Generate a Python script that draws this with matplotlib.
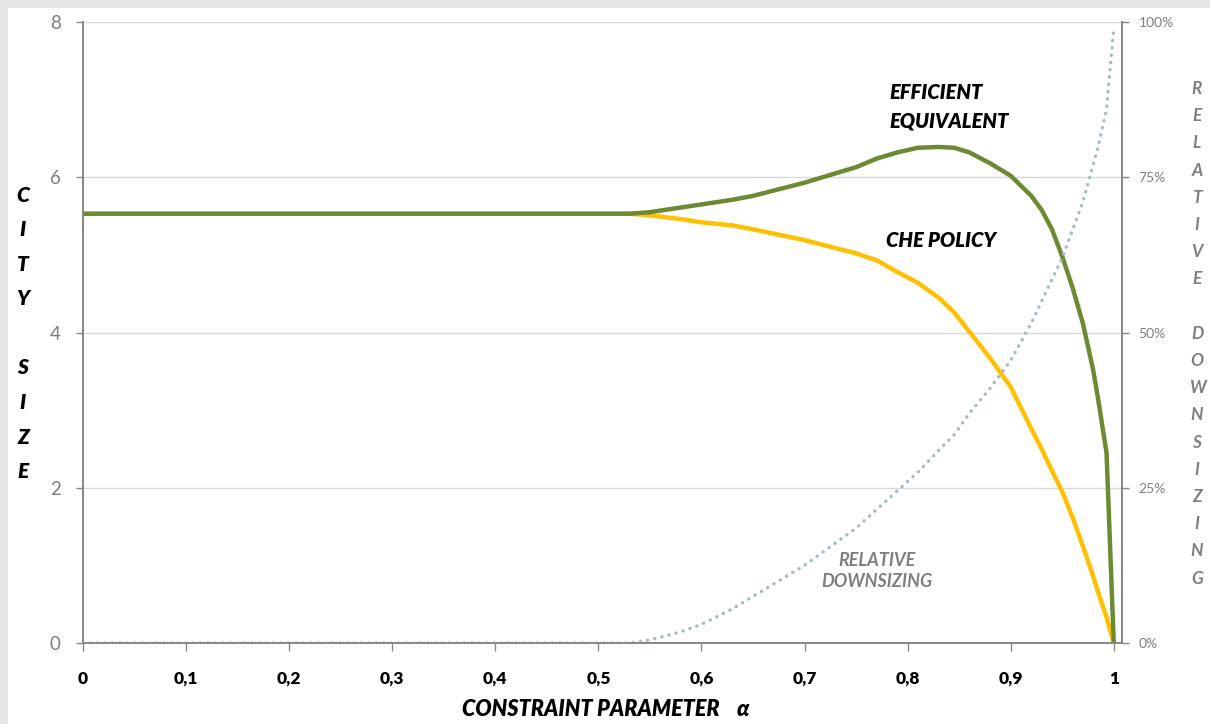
import matplotlib.pyplot as plt
from matplotlib.patches import Rectangle
from matplotlib.ticker import FuncFormatter

# data
alpha = [0.0, 0.50, 0.53, 0.55, 0.58, 0.60, 0.63, 0.65, 0.70, 0.75, 0.77, 0.79, 0.81, 0.83,
         0.845, 0.86, 0.88, 0.90, 0.92, 0.93, 0.94, 0.95, 0.96, 0.97, 0.98, 0.985, 0.993, 1.0]
efficient_equivalent = [5.53, 5.53, 5.53, 5.55, 5.61, 5.65, 5.71, 5.76, 5.93, 6.13, 6.24, 6.32,
                        6.38, 6.39, 6.38, 6.32, 6.18, 6.02, 5.76, 5.58, 5.33, 4.98, 4.58, 4.12,
                        3.52, 3.13, 2.45, 0.0]
che_policy = [5.53, 5.53, 5.53, 5.51, 5.46, 5.42, 5.38, 5.33, 5.19, 5.02, 4.93, 4.78, 4.64, 4.45,
              4.26, 4.01, 3.67, 3.30, 2.76, 2.50, 2.22, 1.95, 1.62, 1.25, 0.86, 0.65, 0.33, 0.0]
relative_downsizing = [0.0, 0.0, 0.0, 0.005, 0.018, 0.03, 0.055, 0.075, 0.125, 0.185, 0.215,
                       0.245, 0.275, 0.31, 0.335, 0.37, 0.41, 0.455, 0.515, 0.55, 0.585, 0.62,
                       0.665, 0.71, 0.77, 0.80, 0.86, 0.99]

x_ticks = [0, 0.1, 0.2, 0.3, 0.4, 0.5, 0.6, 0.7, 0.8, 0.9, 1.0]
x_labels = ["0", "0,1", "0,2", "0,3", "0,4", "0,5", "0,6", "0,7", "0,8", "0,9", "1"]
y_ticks = [0, 2, 4, 6, 8]
pct_ticks = [0, 0.25, 0.5, 0.75, 1.0]

GREEN = "#6d8a33"
YELLOW = "#ffc000"
DOTS = "#a7bbc3"
AXIS_GRAY = "#868686"
LABEL_GRAY = "#7f7f7f"

plt.rcParams["font.family"] = ["Lato", "DejaVu Sans"]

fig = plt.figure(figsize=(12.1, 7.24), dpi=100)
fig.patch.set_facecolor("#e6e6e6")
fig.patches.append(Rectangle((8 / 1210, 0), 1, 1 - 8 / 724, transform=fig.transFigure,
                             facecolor="white", edgecolor="none", zorder=-10))

ax = fig.add_axes([83 / 1210, 81 / 724, (1122 - 83) / 1210, (643 - 22) / 724])
ax.set_facecolor("none")
ax2 = ax.twinx()

# main curves
ax.plot(alpha, che_policy, color=YELLOW, lw=3.2, solid_capstyle="butt",
        solid_joinstyle="round", zorder=3)
ax.plot(alpha, efficient_equivalent, color=GREEN, lw=3.2, solid_capstyle="butt",
        solid_joinstyle="round", zorder=4)
ax2.plot(alpha, relative_downsizing, color=DOTS, lw=2.4, dashes=(0.1, 2.1),
         dash_capstyle="round", zorder=2)

ax.set_xlim(0, 1.008)
ax.set_ylim(0, 8)
ax2.set_ylim(0, 1)

ax.set_yticks(y_ticks)
ax.yaxis.grid(True, color="#d9d9d9", lw=1)
ax.set_axisbelow(True)
ax.set_xticks(x_ticks)
ax.set_xticklabels(x_labels, fontweight="heavy", fontsize=12.5, color="black")
ax.tick_params(axis="x", length=6, width=1, color=AXIS_GRAY, pad=14)
ax.tick_params(axis="y", length=5, width=1, color=AXIS_GRAY, pad=11,
               labelsize=13.5, labelcolor=LABEL_GRAY)

ax2.set_yticks(pct_ticks)
ax2.yaxis.set_major_formatter(FuncFormatter(lambda v, _: f"{v:.0%}"))
ax2.tick_params(axis="y", length=5, width=1, color=AXIS_GRAY, pad=7,
                labelsize=10, labelcolor=LABEL_GRAY)

for a in (ax, ax2):
    a.spines["top"].set_visible(False)
    for s in ("left", "right", "bottom"):
        a.spines[s].set_color(AXIS_GRAY)
        a.spines[s].set_linewidth(1.2)

# curve annotations
ax.text(0.782, 6.91, "EFFICIENT\nEQUIVALENT", fontsize=14.5, fontweight="heavy",
        fontstyle="italic", linespacing=1.55, va="center", ha="left")
ax.text(0.779, 5.19, "CHE POLICY", fontsize=14.5, fontweight="heavy",
        fontstyle="italic", va="center", ha="left")
ax.text(0.77, 0.93, "RELATIVE\nDOWNSIZING", fontsize=13, fontstyle="italic",
        fontweight="bold", color=LABEL_GRAY, linespacing=1.3,
        va="center", ha="center")

# axis titles
fig.text(606 / 1210, 1 - 710 / 724, "CONSTRAINT PARAMETER    \u03b1", fontsize=15.5,
         fontweight="heavy", fontstyle="italic", ha="center", va="center")

for i, ch in enumerate("CITY SIZE"):
    fig.text(23 / 1210, 1 - (195 + i * 34.6) / 724, ch, fontsize=15, fontweight="heavy",
             fontstyle="italic", ha="center", va="center")

for i, ch in enumerate("RELATIVE DOWNSIZING"):
    fig.text(1197 / 1210, 1 - (89 + i * 27.2) / 724, ch, fontsize=12.5,
             fontweight="bold", fontstyle="italic", color=LABEL_GRAY,
             ha="center", va="center")

fig.savefig("out.png", dpi=100, facecolor=fig.get_facecolor())
